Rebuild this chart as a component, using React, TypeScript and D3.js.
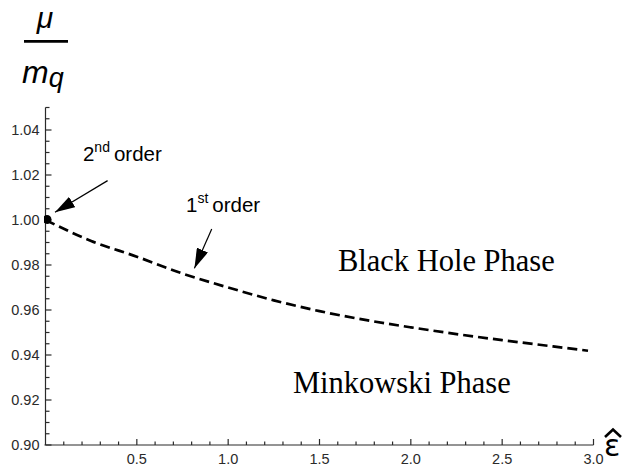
import { useEffect, useRef } from "react"
import * as d3 from "d3"

// curve: epsilon hat vs mu / m_q
const epsValues = [0, 0.25, 0.5, 0.75, 1.0, 1.25, 1.5, 1.75, 2.0, 2.25, 2.5, 2.75, 2.97]
const muValues = [1.0, 0.9907, 0.9837, 0.9762, 0.9700, 0.9643, 0.9595, 0.9556, 0.9523, 0.9493, 0.9466, 0.9441, 0.9419]

const xTicks = [0.5, 1.0, 1.5, 2.0, 2.5, 3.0]
const yTicks = [0.90, 0.92, 0.94, 0.96, 0.98, 1.00, 1.02, 1.04]

// annotations in data coordinates
const secondOrder = { text: "2", sup: "nd", rest: "order", x: 0.205, y: 1.0264, tail: [0.34, 1.0175], tip: [0.052, 1.0034] }
const firstOrder = { text: "1", sup: "st", rest: "order", x: 0.769, y: 1.0037, tail: [0.91, 0.996], tip: [0.815, 0.9785] }
const phaseLabels = [
    { text: "Black Hole Phase", x: 1.601, y: 0.9775 },
    { text: "Minkowski Phase", x: 1.355, y: 0.9232 },
]

export default function App() {
    const ref = useRef<SVGSVGElement>(null)

    useEffect(() => {
        const width = 626
        const height = 465
        const axisColor = '#2a2a2a'
        const sans = 'Arial, "Liberation Sans", sans-serif'

        const x = d3.scaleLinear().domain([0, 3]).range([45.5, 593.5])
        const y = d3.scaleLinear().domain([0.9, 1.05]).range([445, 107.5])

        const svg = d3.select(ref.current)
        svg.selectAll("*").remove()
        svg.attr("width", width).attr("height", height).attr("viewBox", `0 0 ${width} ${height}`)

        const defs = svg.append("defs")
        defs.append("clipPath").attr("id", "plotClip")
            .append("rect")
                .attr("x", x(0) - 1.5).attr("y", y(1.05))
                .attr("width", x(3) - x(0) + 5).attr("height", y(0.9) - y(1.05))
        defs.append("marker")
            .attr("id", "arrowHead")
            .attr("viewBox", "0 0 20 12")
            .attr("refX", 20).attr("refY", 6)
            .attr("markerWidth", 20).attr("markerHeight", 12)
            .attr("markerUnits", "userSpaceOnUse")
            .attr("orient", "auto")
            .append("path")
                .attr("d", "M0 0 L20 6 L0 12 Z")
                .attr("fill", "#000")

        // axes
        const xMinor = d3.range(1, 31).map(d => d / 10)
        const yMinor = d3.range(0, 31).map(d => 0.9 + d * 0.005)

        const axes = svg.append("g").attr("stroke", axisColor).attr("stroke-width", 1.2)
        axes.append("line")
            .attr("x1", x(0) - 1).attr("x2", x(3)).attr("y1", y(0.9)).attr("y2", y(0.9))
        axes.append("line")
            .attr("x1", x(0)).attr("x2", x(0)).attr("y1", y(0.9)).attr("y2", y(1.05))
        axes.selectAll(".xt").data(xMinor).join("line")
            .attr("x1", d => x(d)).attr("x2", d => x(d))
            .attr("y1", y(0.9))
            .attr("y2", d => y(0.9) - (Math.abs(d * 2 - Math.round(d * 2)) < 1e-6 ? 6 : 3.5))
        axes.selectAll(".yt").data(yMinor).join("line")
            .attr("y1", d => y(d)).attr("y2", d => y(d))
            .attr("x1", x(0))
            .attr("x2", d => x(0) + (Math.abs(d * 50 - Math.round(d * 50)) < 1e-6 ? 6 : 4))

        svg.append("g")
            .attr("font-family", sans).attr("font-size", 14.5).attr("fill", axisColor)
            .attr("text-anchor", "middle")
            .selectAll("text").data(xTicks).join("text")
                .attr("x", d => x(d)).attr("y", 463.5)
                .text(d => d.toFixed(1))
        svg.append("g")
            .attr("font-family", sans).attr("font-size", 14.5).attr("fill", axisColor)
            .attr("text-anchor", "end")
            .selectAll("text").data(yTicks).join("text")
                .attr("x", x(0) - 6).attr("y", d => y(d) + 5)
                .text(d => d.toFixed(2))

        // axis labels
        const yLabel = svg.append("g").attr("font-family", sans).attr("font-style", "italic").attr("fill", "#000")
        yLabel.append("text").attr("x", 45).attr("y", 28).attr("font-size", 30).attr("text-anchor", "middle").text("μ")
        yLabel.append("line").attr("x1", 24).attr("x2", 68).attr("y1", 41.3).attr("y2", 41.3)
            .attr("stroke", "#000").attr("stroke-width", 2.8)
        const mq = yLabel.append("text").attr("x", 22).attr("y", 83).attr("font-size", 32)
        mq.append("tspan").text("m")
        mq.append("tspan").attr("font-size", 27).attr("dy", 4).text("q")

        // epsilon with a hat drawn over it
        svg.append("text")
            .attr("font-family", '"DejaVu Sans", sans-serif').attr("font-size", 30).attr("fill", "#000")
            .attr("x", 604).attr("y", 455.5).text("ε")
        svg.append("path")
            .attr("d", "M605 437 L613 429.5 L621 437")
            .attr("fill", "none").attr("stroke", "#000").attr("stroke-width", 2.6)

        // curve
        const plot = svg.append("g").attr("clip-path", "url(#plotClip)")
        const line = d3.line<number>()
            .x((_, i) => x(epsValues[i]))
            .y(d => y(d))
            .curve(d3.curveMonotoneX)
        plot.append("path")
            .attr("d", line(muValues))
            .attr("fill", "none")
            .attr("stroke", "#000")
            .attr("stroke-width", 2.7)
            .attr("stroke-dasharray", "10,5")
        plot.append("circle")
            .attr("cx", x(epsValues[0]) + 1.5).attr("cy", y(muValues[0]) - 0.5)
            .attr("r", 4.5).attr("fill", "#000")

        // annotations
        for (const a of [secondOrder, firstOrder]) {
            const t = svg.append("text")
                .attr("font-family", sans).attr("font-size", 20.5).attr("fill", "#000")
                .attr("x", x(a.x)).attr("y", y(a.y))
            t.append("tspan").text(a.text)
            t.append("tspan").attr("font-size", 14).attr("dy", -8.5).text(a.sup)
            t.append("tspan").attr("dy", 8.5).attr("dx", 4).text(a.rest)
            svg.append("line")
                .attr("x1", x(a.tail[0])).attr("y1", y(a.tail[1]))
                .attr("x2", x(a.tip[0])).attr("y2", y(a.tip[1]))
                .attr("stroke", "#000").attr("stroke-width", 1.2)
                .attr("marker-end", "url(#arrowHead)")
        }

        svg.append("g")
            .attr("font-family", '"Liberation Serif", "Times New Roman", serif')
            .attr("font-size", 30.5).attr("fill", "#000")
            .selectAll("text").data(phaseLabels).join("text")
                .attr("x", d => x(d.x)).attr("y", d => y(d.y))
                .text(d => d.text)
    }, [])

    return (
        <svg ref={ref} style={{ position: "absolute", left: 0, top: 0, background: "#fff" }}></svg>
    )
}
